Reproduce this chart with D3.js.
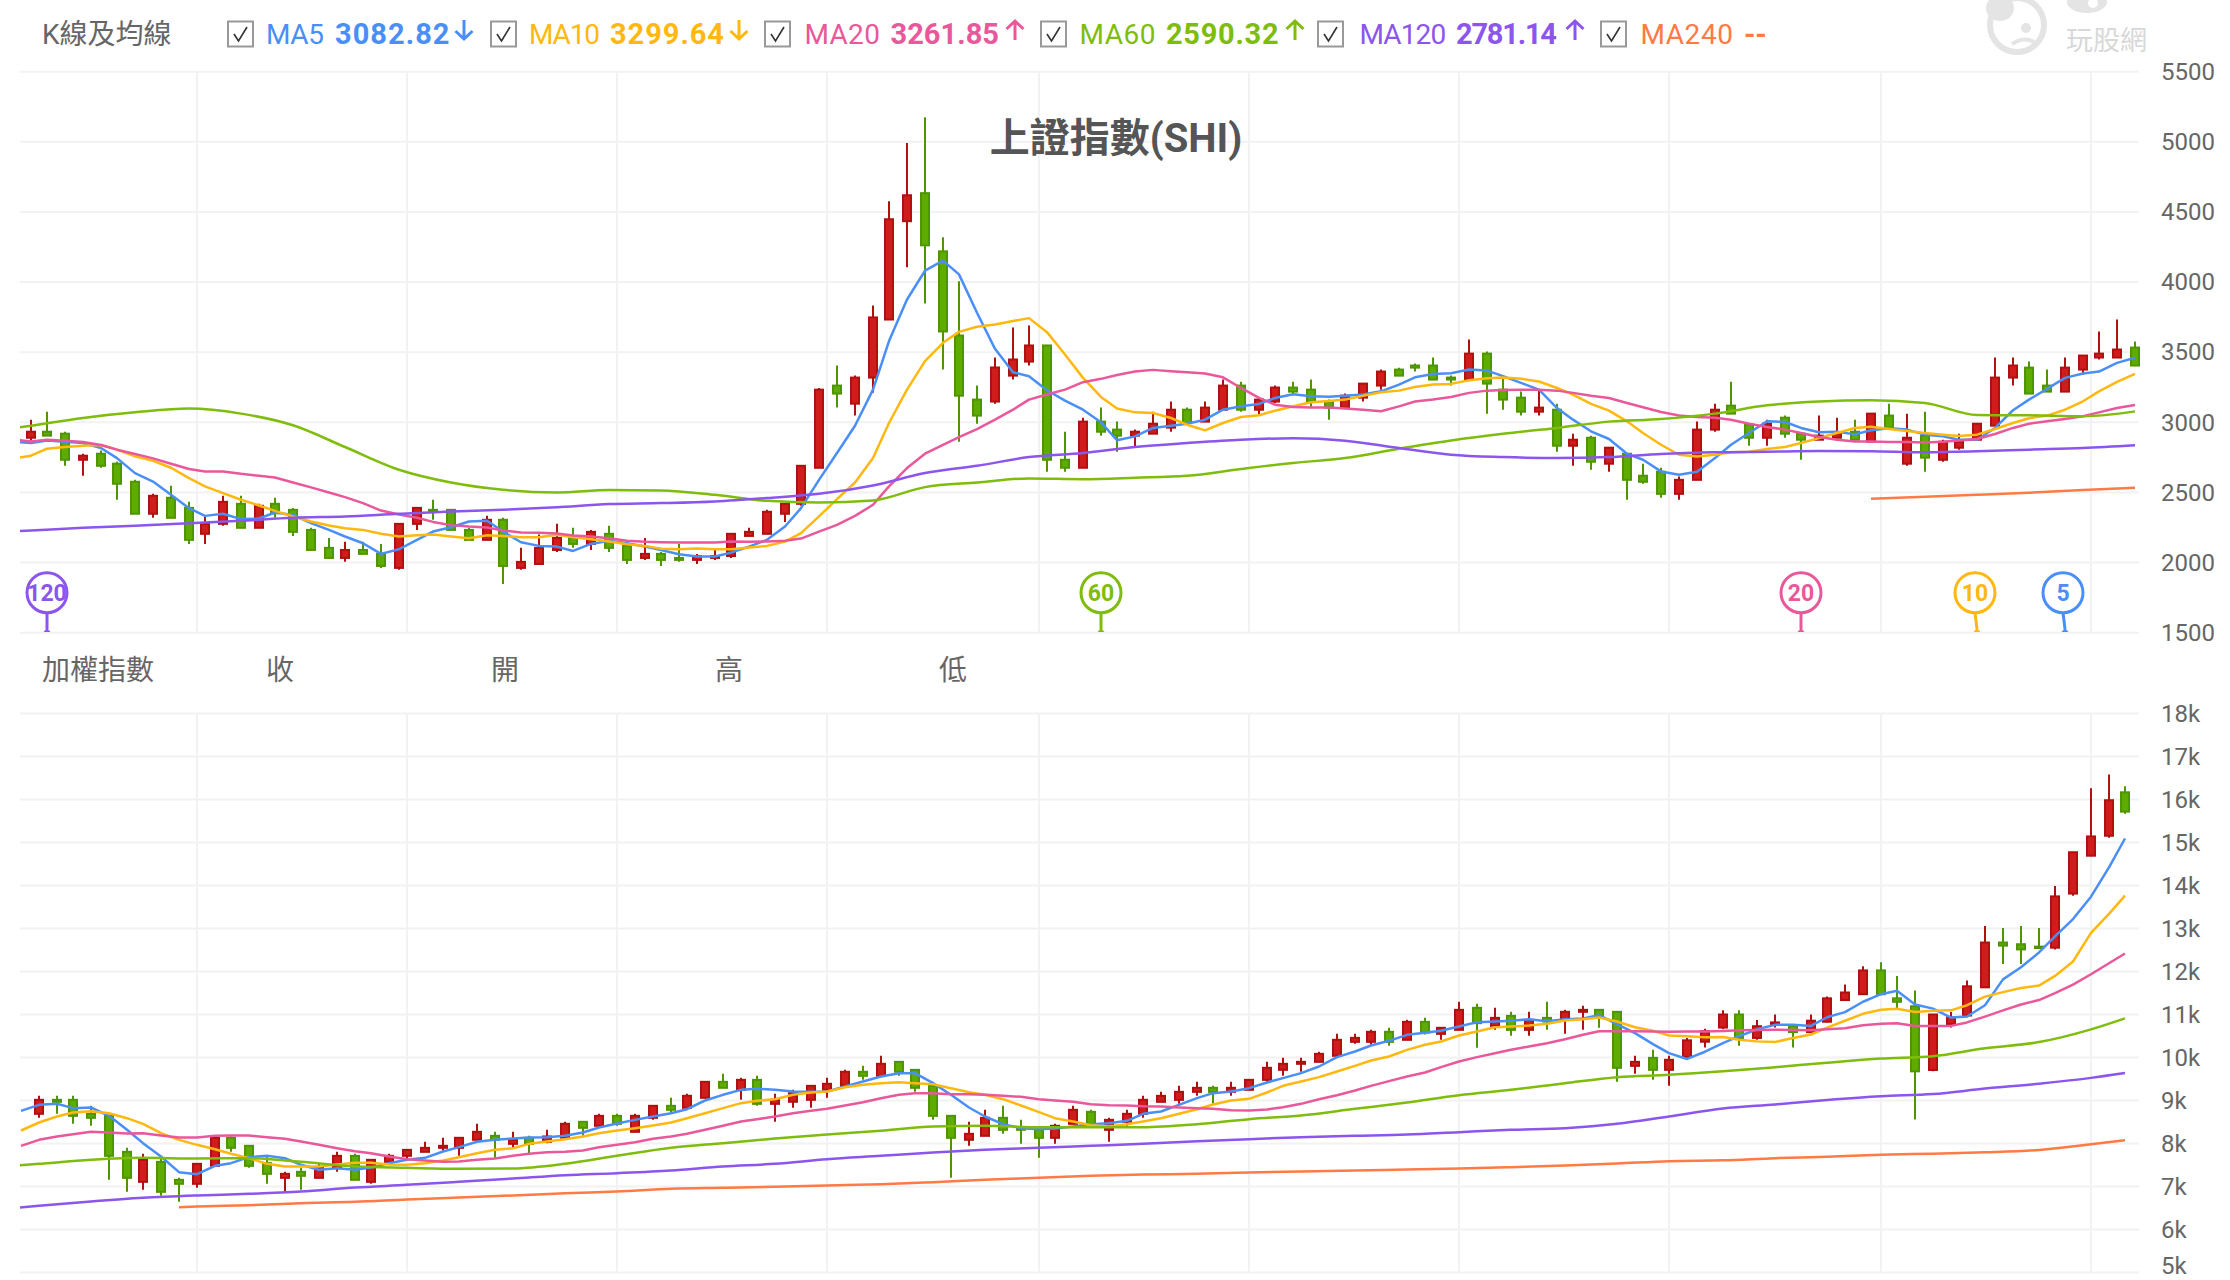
<!DOCTYPE html>
<html>
<head>
<meta charset="utf-8">
<script src="https://cdn.jsdelivr.net/npm/d3@7"></script>
<style>
	html, body { margin: 0; background: #fff; }
	svg { display: block; font-family: Roboto, "Noto Sans CJK TC", sans-serif; }
</style>
</head>
<body>
<svg id="chart" width="2230" height="1280"></svg>
<script>
// header legend
const maNames = ["MA5", "MA10", "MA20", "MA60", "MA120", "MA240"];
const maLegendValues = ["3082.82", "3299.64", "3261.85", "2590.32", "2781.14", "--"];
const maTrends = ["down", "down", "up", "up", "up", null];
const maPeriods = [5, 10, 20, 60, 120];
const subHeaders = ["加權指數", "收", "開", "高", "低"];

const upperTicks = [1500, 2000, 2500, 3000, 3500, 4000, 4500, 5000, 5500];
const lowerTicks = [5000, 6000, 7000, 8000, 9000, 10000, 11000, 12000, 13000, 14000, 15000, 16000, 17000, 18000];

// upper panel: SHI, monthly
const upOpen = [2890,2933,2919,2733,2776,2705,2576,2348,2462,2390,
	2205,2276,2419,2248,2419,2376,2233,2105,2033,2090,
	2062,1962,2276,2376,2376,2233,2162,2305,1962,1990,
	2090,2176,2133,2205,2119,2033,2062,2033,2019,2033,
	2047,2190,2205,2348,2419,2676,3262,3133,3319,3733,
	4434,4634,4219,3619,3162,3148,3333,3433,3548,2733,
	2676,3005,2948,2905,2919,2962,3090,3005,3090,3262,
	3090,3148,3248,3233,3148,3105,3176,3262,3376,3405,
	3405,3319,3305,3490,3233,3176,3076,3090,2833,2890,
	2705,2776,2619,2648,2490,2590,2948,3119,2984,2890,
	3033,2919,2876,2890,2933,2862,3048,2705,2905,2733,
	2819,2876,2976,3319,3390,3262,3219,3376,3462,3462,
	3533];
const upClose = [2933,2905,2733,2762,2690,2562,2348,2476,2319,2162,
	2276,2433,2248,2405,2352,2219,2090,2033,2090,2062,
	1976,2276,2390,2362,2233,2162,2305,1976,2005,2105,
	2176,2133,2219,2105,2019,2062,2019,2019,2047,2047,
	2205,2219,2362,2419,2690,3233,3205,3319,3748,4448,
	4619,4262,3648,3190,3048,3391,3448,3548,2733,2676,
	3005,2933,2905,2933,2990,3090,2995,3105,3262,3090,
	3162,3248,3219,3148,3105,3190,3276,3362,3333,3390,
	3305,3305,3490,3276,3162,3076,3105,2833,2876,2719,
	2819,2590,2576,2490,2590,2948,3090,3062,2890,2990,
	2919,2876,2905,2919,2876,3062,2962,2890,2748,2862,
	2862,2990,3319,3405,3205,3219,3390,3476,3490,3519,
	3405];
const upHigh = [3019,3076,2933,2776,2800,2719,2590,2490,2548,2433,
	2328,2476,2476,2419,2462,2390,2248,2176,2148,2148,
	2133,2276,2390,2448,2376,2248,2333,2319,2105,2200,
	2276,2248,2233,2262,2119,2176,2076,2133,2062,2090,
	2205,2248,2376,2424,2690,3245,3405,3333,3833,4576,
	4991,5176,4319,4005,3262,3462,3676,3690,3548,2933,
	3033,3105,3005,2948,3076,3148,3105,3148,3305,3290,
	3174,3262,3290,3305,3162,3205,3276,3376,3390,3419,
	3462,3333,3590,3505,3316,3219,3233,3133,2919,2905,
	2819,2776,2705,2676,2614,3005,3133,3290,2984,3019,
	3048,2919,3048,3033,3019,3062,3133,3062,3076,2876,
	2919,2990,3462,3462,3433,3376,3462,3476,3648,3733,
	3576];
const upLow = [2871,2905,2690,2619,2676,2448,2348,2319,2319,2133,
	2133,2262,2248,2248,2319,2190,2090,2033,2005,2062,
	1962,1948,2233,2305,2233,2162,2162,1848,1948,1990,
	2076,2105,2090,2076,1990,2019,1976,2005,1990,2019,
	2033,2190,2205,2290,2405,2676,3105,3048,3210,3733,
	4105,3848,3376,2862,2990,3133,3305,3405,2648,2648,
	2676,2905,2790,2828,2919,2933,2995,3005,3090,3076,
	3057,3138,3198,3105,3019,3105,3148,3233,3333,3362,
	3305,3262,3305,3062,3090,3048,3048,2790,2690,2662,
	2648,2448,2562,2462,2448,2590,2933,3062,2833,2833,
	2890,2733,2876,2890,2876,2862,2948,2690,2648,2719,
	2805,2876,2976,3262,3205,3219,3219,3340,3448,3462,
	3405];

// fast averages start one month before the first candle
const upMA5 = [2862,
	2852,2871,2862,2852,2817,2745,2638,2578,2483,2388,
	2333,2348,2310,2314,2357,2340,2281,2233,2186,2138,
	2062,2095,2162,2221,2252,2293,2298,2221,2145,2119,
	2114,2083,2133,2155,2138,2114,2090,2060,2043,2043,
	2071,2114,2162,2257,2388,2590,2781,2976,3233,3579,
	3876,4081,4153,4055,3781,3524,3357,3329,3229,3155,
	3090,3000,2872,2900,2960,2976,2990,3019,3090,3114,
	3131,3174,3200,3186,3183,3190,3198,3221,3269,3321,
	3345,3350,3376,3369,3329,3281,3233,3102,3019,2936,
	2881,2776,2733,2650,2626,2648,2745,2840,2924,3007,
	3002,2960,2929,2933,2914,2943,2957,2948,2912,2900,
	2876,2876,2960,3086,3162,3238,3317,3348,3362,3424,
	3460];
const upMA10 = [2740,
	2762,2812,2824,2833,2838,2805,2757,2726,2676,2602,
	2543,2495,2448,2407,2369,2329,2293,2264,2245,2233,
	2205,2186,2195,2200,2186,2174,2195,2190,2181,2181,
	2198,2181,2167,2150,2131,2119,2098,2095,2100,2095,
	2095,2107,2119,2150,2210,2329,2452,2571,2745,2995,
	3233,3436,3567,3645,3681,3698,3722,3743,3643,3484,
	3317,3181,3098,3071,3067,3031,2983,2943,2995,3038,
	3050,3083,3114,3143,3152,3162,3190,3214,3226,3252,
	3269,3274,3300,3314,3319,3310,3291,3245,3198,3131,
	3083,3007,2924,2840,2769,2757,2769,2786,2790,2810,
	2824,2852,2888,2924,2960,2969,2952,2938,2924,2912,
	2902,2912,2952,2995,3029,3048,3090,3150,3221,3288,
	3345];
const upMA20 = [2876,
	2864,2876,2869,2860,2838,2805,2774,2743,2705,2667,
	2650,2650,2633,2619,2607,2571,2536,2500,2467,2424,
	2371,2343,2319,2290,2267,2257,2250,2229,2214,2212,
	2207,2193,2186,2174,2155,2148,2145,2143,2143,2143,
	2150,2148,2150,2155,2171,2221,2269,2333,2412,2543,
	2674,2776,2840,2895,2952,3019,3090,3162,3198,3233,
	3286,3310,3338,3362,3374,3364,3357,3348,3321,3245,
	3174,3126,3110,3105,3105,3098,3090,3079,3114,3148,
	3162,3181,3210,3226,3231,3233,3233,3226,3210,3190,
	3174,3138,3107,3074,3048,3038,3033,3019,2990,2967,
	2948,2924,2895,2876,2864,2864,2860,2860,2857,2862,
	2871,2881,2917,2960,2990,3007,3024,3043,3071,3102,
	3124];
// slow averages read every third month
const upMA60 = [2921,2976,3031,3071,3098,3062,2979,2824,2662,2571,2519,2500,
	2517,2514,2483,2440,2428,2443,2538,2571,2600,2595,
	2605,2619,2667,2710,2745,2812,2871,2919,2960,3005,3024,
	3062,3121,3148,3157,3138,3052,3050,3043,3078];
const upMA120 = [2210,2229,2248,2262,2281,2298,2319,2329,2348,2364,2376,2395,
	2417,2424,2436,2460,2490,2550,2638,2690,2752,2781,
	2824,2852,2876,2886,2869,2817,2769,2752,2745,2752,2774,
	2786,2790,2795,2793,2786,2793,2805,2817,2836];
const upMA240 = [2455,2469,2483,2498,2517,2533];

// lower panel: TAIEX, monthly
const lowOpen = [8690,9016,9016,8690,8643,7806,7108,7573,7155,7062,
	7480,8132,7946,7542,7201,7341,7201,7434,7713,7108,
	7573,7713,7806,7899,7899,8086,8178,7992,8132,8039,
	8132,8504,8411,8643,8271,8597,8876,8830,9062,9434,
	9248,9480,8922,8970,9016,9248,9341,9667,9574,9899,
	9713,9341,8643,8086,8178,8597,8360,8318,8132,8457,
	8736,8318,8504,8690,8969,9015,9201,9295,9201,9248,
	9480,9713,9853,9899,10039,10364,10364,10597,10411,10829,
	10550,10643,11155,10736,10969,10643,10922,10876,11062,11108,
	11062,9806,9992,9713,10014,10367,10696,11000,10455,10768,
	10736,10592,10832,11336,11472,12025,11376,11192,9710,10776,
	10976,11632,12674,12634,12578,12554,13812,14693,15157,16167];
const lowClose = [9016,8969,8643,8597,7713,7201,7620,6876,7062,7527,
	8132,7899,7480,7294,7294,7248,7434,7713,7155,7620,
	7713,7852,7899,7946,8132,8271,8086,8086,7992,8163,
	8458,8364,8643,8457,8643,8876,8783,9109,9434,9295,
	9480,8922,9016,9170,9341,9388,9667,9574,9853,9667,
	9295,8643,8132,8225,8597,8318,8318,8132,8411,8783,
	8457,8550,8690,9016,9108,9201,9295,9201,9295,9480,
	9760,9853,9899,10085,10411,10457,10597,10364,10829,10581,
	10690,11108,10798,10922,10643,10876,10837,11062,11108,10953,
	9760,9899,9713,9946,10399,10615,11000,10455,10728,10816,
	10592,10856,11376,11512,12025,11472,11296,9678,11000,10936,
	11656,12674,12602,12514,12546,13747,14773,15141,15983,15718];
const lowHigh = [9109,9109,9109,8876,8643,7899,7760,7697,7201,7527,
	8132,8163,7946,7697,7341,7434,7542,7806,7760,7620,
	7760,7852,8039,8132,8132,8457,8271,8271,8178,8318,
	8504,8504,8690,8690,8690,8876,9062,9155,9434,9620,
	9527,9573,9155,9248,9341,9527,9713,9806,10039,9899,
	9713,9434,8643,8504,8783,8876,8550,8318,8458,8876,
	8783,8597,8783,9109,9201,9341,9434,9341,9434,9480,
	9900,9992,9992,10132,10550,10550,10643,10690,10876,10922,
	10690,11295,11248,11155,11062,11062,11295,11108,11201,11108,
	11062,10039,10178,10039,10455,10671,11096,11096,10872,11000,
	10776,11000,11416,11697,12121,12218,11897,11560,11000,11056,
	11792,13058,13010,13058,13010,13988,14781,16263,16583,16311];
const lowLow = [8597,8690,8457,8411,7155,6876,6922,6783,6643,6969,
	7480,7806,7434,7062,6876,6922,7201,7341,7155,7062,
	7527,7620,7806,7806,7713,8086,7666,7899,7775,8008,
	8132,8178,8364,8411,8271,8550,8705,8830,9062,9295,
	9016,8876,8504,8830,8830,9062,9341,9481,9574,9574,
	9201,8550,7201,7946,8178,8225,7992,7666,7992,8457,
	8411,8039,8411,8597,8969,8923,9108,8923,9108,9248,
	9434,9574,9667,9899,10039,10318,10295,10271,10411,10535,
	10411,10643,10225,10643,10504,10504,10643,10550,10643,10690,
	9434,9620,9480,9341,9974,10231,10656,10271,10415,10696,
	10231,10592,10816,11336,11472,11472,11152,8556,9678,10696,
	10936,11632,12177,12177,12546,12514,13763,14693,15110,15670];

const lowMA5 = [8760,
	8899,8923,8822,8837,8643,8318,8008,7698,7333,7287,
	7481,7543,7682,7713,7659,7504,7388,7426,7388,7442,
	7543,7620,7667,7814,7915,8039,8086,8116,8140,8147,
	8178,8256,8372,8465,8550,8628,8705,8798,9000,9132,
	9248,9271,9248,9209,9202,9209,9326,9442,9558,9636,
	9636,9403,9132,8837,8628,8450,8357,8333,8349,8395,
	8450,8473,8527,8690,8744,8899,9054,9171,9209,9287,
	9419,9520,9636,9791,10008,10140,10279,10388,10527,10574,
	10620,10721,10822,10837,10853,10891,10845,10891,10907,10985,
	10775,10566,10310,10101,9966,10134,10335,10495,10655,10759,
	10759,10735,10936,11056,11296,11472,11552,11232,11136,10928,
	10952,11216,11817,12097,12442,12818,13219,13740,14420,15093];
const lowMA10 = [8302,
	8488,8628,8721,8752,8705,8589,8457,8240,8085,7969,
	7868,7760,7659,7527,7465,7465,7465,7512,7550,7550,
	7512,7504,7543,7605,7682,7775,7853,7891,7992,8046,
	8101,8163,8240,8302,8357,8419,8488,8589,8705,8822,
	8938,8992,9031,9132,9186,9209,9310,9364,9403,9426,
	9403,9380,9287,9194,9132,9031,8884,8729,8589,8512,
	8426,8395,8450,8512,8589,8690,8798,8907,9000,9039,
	9186,9341,9442,9543,9674,9806,9930,10023,10178,10295,
	10372,10512,10605,10705,10721,10744,10783,10860,10891,10930,
	10837,10705,10620,10512,10495,10471,10479,10415,10375,10359,
	10455,10535,10695,10855,11016,11112,11136,11056,11088,11096,
	11216,11416,11520,11616,11673,11897,12233,12898,13339,13763];
const lowMA20 = [7946,
	8085,8163,8217,8271,8256,8233,8240,8186,8140,8140,
	8178,8186,8186,8147,8109,8046,7969,7891,7822,7775,
	7698,7636,7605,7574,7581,7620,7651,7713,7760,7798,
	7806,7837,7915,7969,8031,8109,8163,8225,8318,8411,
	8512,8566,8628,8705,8760,8806,8884,8961,9054,9132,
	9171,9171,9147,9147,9132,9109,9085,9031,9000,8969,
	8915,8891,8884,8868,8861,8837,8822,8806,8775,8767,
	8791,8845,8922,9031,9124,9233,9341,9450,9558,9651,
	9775,9907,10008,10101,10178,10256,10333,10426,10527,10612,
	10612,10612,10605,10597,10607,10607,10615,10631,10639,10647,
	10639,10631,10655,10679,10751,10783,10799,10735,10735,10735,
	10816,10952,11096,11232,11336,11496,11696,11937,12193,12418];
const lowMA60 = [7434,7527,7620,7667,7651,7659,7574,7465,7434,7411,7418,
	7527,7713,7899,8008,8116,8209,8295,8395,8411,8380,8380,
	8380,8450,8566,8651,8806,8954,9124,9248,9403,9543,9597,
	9678,9774,9878,9974,10030,10215,10359,10655,10911];
const lowMA120 = [6442,6550,6651,6736,6791,6829,6884,6977,7039,7109,7186,
	7263,7310,7372,7465,7527,7636,7713,7791,7853,7899,7946,
	7992,8054,8101,8147,8178,8209,8264,8318,8357,8457,8628,
	8813,8909,9013,9101,9149,9277,9389,9526,9638];
const lowMA240 = [6519,6535,6566,6612,6643,6698,6744,6791,
	6845,6884,6946,6969,6992,7023,7054,7101,7155,7202,7248,
	7279,7294,7326,7349,7372,7395,7419,7450,7488,7535,7589,
	7611,7659,7691,7739,7763,7795,7851,7980,8076];

const maColors = ["#4a8ff7", "#ffb80f", "#e9589a", "#7fbc0c", "#8b55ee", "#ff7a45"];
const upFill = "#d11c1c", upEdge = "#b01010", downFill = "#5fac00", downEdge = "#4f9500";
const gridColor = "#f2f2f2", textColor = "#666";

const plotLeft = 20, plotRight = 2139, axisX = 2161;

const svg = d3.select("#chart");
svg.append("defs").append("clipPath").attr("id", "plotClip")
	.append("rect").attr("x", plotLeft).attr("y", 60).attr("width", plotRight - plotLeft).attr("height", 1220);

// candle centres land on every other pixel in the original
const snap = (v) => 2 * Math.round((v - 1) / 2) + 1;
const xUpScale = d3.scaleLinear().domain([0, 120]).range([30.2, 2135]);
const xLowScale = d3.scaleLinear().domain([0, 119]).range([38.7, 2125.8]);
const xUp = (i) => snap(xUpScale(i));
const xLow = (i) => snap(xLowScale(i));
const yUp = d3.scaleLinear().domain([1500, 5500]).range([632.7, 71.7]);
const yLow = d3.scaleLinear().domain([5000, 18000]).range([1272.5, 713.5]);

// every january, same place in both panels
const yearIdx = d3.range(9, 120, 12);

const fastIdx = (arr) => arr.map((_, i) => i - 1);
const upSlowIdx = d3.range(-3, 121, 3);
const lowSlowIdx = d3.range(-3, 118, 3).concat(119);

function drawPanel(o) {
	const g = svg.append("g");

	g.append("g").selectAll("line").data(o.ticks).join("line")
		.attr("x1", plotLeft).attr("x2", plotRight)
		.attr("y1", (d) => o.y(d)).attr("y2", (d) => o.y(d))
		.attr("stroke", gridColor).attr("stroke-width", 2);

	g.append("g").selectAll("line").data(yearIdx).join("line")
		.attr("x1", (d) => xLow(d)).attr("x2", (d) => xLow(d))
		.attr("y1", o.y.range()[1]).attr("y2", o.y.range()[0])
		.attr("stroke", gridColor).attr("stroke-width", 2);

	const axis = g.append("g")
		.attr("transform", `translate(${axisX},0)`)
		.call(d3.axisRight(o.y).tickValues(o.ticks).tickSize(0).tickPadding(0).tickFormat(o.format));
	axis.select(".domain").remove();
	axis.selectAll("text").attr("fill", textColor).attr("font-size", 24)
		.attr("font-family", "Roboto, sans-serif");
	// the lowest label of the page sits right on the edge
	if (o.edgeTick !== undefined) axis.selectAll("text").filter((d) => d === o.edgeTick).attr("dy", "0.06em");

	const rows = o.open.map((d, i) => ({ i, o: d, c: o.close[i], h: o.high[i], l: o.low[i] }));
	const candle = g.append("g").selectAll("g").data(rows).join("g");
	candle.append("line")
		.attr("x1", (d) => o.x(d.i)).attr("x2", (d) => o.x(d.i))
		.attr("y1", (d) => o.y(d.h)).attr("y2", (d) => o.y(d.l))
		.attr("stroke", (d) => (d.c >= d.o ? upEdge : downEdge))
		.attr("stroke-width", 2);
	candle.append("rect")
		.attr("x", (d) => o.x(d.i) - 4)
		.attr("width", 8)
		.attr("y", (d) => o.y(Math.max(d.o, d.c)))
		.attr("height", (d) => Math.max(1, Math.abs(o.y(d.o) - o.y(d.c))))
		.attr("fill", (d) => (d.c >= d.o ? upFill : downFill))
		.attr("stroke", (d) => (d.c >= d.o ? upEdge : downEdge))
		.attr("stroke-width", 2);

	const lines = g.append("g").attr("clip-path", "url(#plotClip)");
	o.mas.forEach((m, k) => {
		const line = d3.line()
			.x((d, i) => o.x(m.idx[i]))
			.y((d) => o.y(d))
			.curve(k < 3 ? d3.curveLinear : d3.curveMonotoneX);
		lines.append("path")
			.attr("d", line(m.values))
			.attr("fill", "none")
			.attr("stroke", maColors[k])
			.attr("stroke-width", 2.5)
			.attr("stroke-linejoin", "round");
	});
}

drawPanel({
	x: xUp, y: yUp, ticks: upperTicks, format: (d) => d,
	open: upOpen, close: upClose, high: upHigh, low: upLow,
	mas: [
		{ values: upMA5, idx: fastIdx(upMA5) },
		{ values: upMA10, idx: fastIdx(upMA10) },
		{ values: upMA20, idx: fastIdx(upMA20) },
		{ values: upMA60, idx: upSlowIdx },
		{ values: upMA120, idx: upSlowIdx },
		{ values: upMA240, idx: d3.range(105, 121, 3) }
	]
});

drawPanel({
	x: xLow, y: yLow, ticks: lowerTicks, format: (d) => d / 1000 + "k", edgeTick: 5000,
	open: lowOpen, close: lowClose, high: lowHigh, low: lowLow,
	mas: [
		{ values: lowMA5, idx: fastIdx(lowMA5) },
		{ values: lowMA10, idx: fastIdx(lowMA10) },
		{ values: lowMA20, idx: fastIdx(lowMA20) },
		{ values: lowMA60, idx: lowSlowIdx },
		{ values: lowMA120, idx: lowSlowIdx },
		{ values: lowMA240, idx: [8].concat(d3.range(9, 118, 3), [119]) }
	]
});

// pins: candle where each average window starts
const pinY = 592.7, pinBase = 632;
const pins = svg.append("g").selectAll("g").data(maPeriods).join("g");
const pinX = (n) => xUp(upOpen.length - n);
const pinLean = (n) => (n <= 10 ? 2 : 0);
pins.append("path")
	.attr("d", (n) => `M${pinX(n) - pinLean(n)},${pinY + 20}L${pinX(n)},${pinBase - 3}`)
	.attr("stroke", (n, i) => maColors[i]).attr("stroke-width", 3).attr("fill", "none");
pins.append("path")
	.attr("d", (n) => `M${pinX(n) - 3.5},${pinBase}L${pinX(n)},${pinBase - 4}L${pinX(n) + 3.5},${pinBase}Z`)
	.attr("fill", (n, i) => maColors[i]);
pins.append("circle")
	.attr("cx", (n) => pinX(n) - pinLean(n)).attr("cy", pinY).attr("r", 20)
	.attr("fill", "#fff").attr("stroke", (n, i) => maColors[i]).attr("stroke-width", 3);
pins.append("text")
	.attr("x", (n) => pinX(n) - pinLean(n)).attr("y", pinY + 8)
	.attr("text-anchor", "middle").attr("font-size", 23).attr("font-weight", 700)
	.attr("fill", (n, i) => maColors[i])
	.text((n) => n);

// header row
svg.append("text").attr("x", 42).attr("y", 44).attr("font-size", 28).attr("fill", textColor).text("K線及均線");

const boxX = [228, 491, 765, 1041, 1318, 1601];
const nameX = [266, 529, 804.5, 1079.5, 1359.5, 1640.5];
const nameW = [58, 71, 75.4, 76, 86.7, 92.5];
const valueX = [335, 610, 890.5, 1166, 1456, 1744];
const valueW = [114.5, 114, 108.5, 112.6, 101, 22.8];
const arrowX = [464, 739, 1015, 1295, 1575, null];

const legend = svg.append("g").selectAll("g").data(maNames).join("g");
legend.append("rect")
	.attr("x", (d, i) => boxX[i]).attr("y", 21.5).attr("width", 25).attr("height", 25)
	.attr("fill", "#fff").attr("stroke", "#999").attr("stroke-width", 2);
legend.append("path")
	.attr("d", (d, i) => `M${boxX[i] + 6},${34}L${boxX[i] + 10.5},${41}L${boxX[i] + 19},${27}`)
	.attr("fill", "none").attr("stroke", "#333").attr("stroke-width", 1.6);
legend.append("text")
	.attr("x", (d, i) => nameX[i]).attr("y", 44).attr("font-size", 28)
	.attr("textLength", (d, i) => nameW[i])
	.attr("fill", (d, i) => maColors[i]).text((d) => d);
legend.append("text")
	.attr("x", (d, i) => valueX[i]).attr("y", 44).attr("font-size", 29).attr("font-weight", 700)
	.attr("textLength", (d, i) => valueW[i])
	.attr("fill", (d, i) => maColors[i]).text((d, i) => maLegendValues[i]);
legend.filter((d, i) => maTrends[i]).append("path")
	.attr("d", function (d) {
		const i = maNames.indexOf(d), a = arrowX[i];
		return maTrends[i] === "up"
			? `M${a},40V21M${a - 8.5},29L${a},21L${a + 8.5},29`
			: `M${a},20V39M${a - 8.5},31L${a},39L${a + 8.5},31`;
	})
	.attr("fill", "none")
	.attr("stroke", (d) => maColors[maNames.indexOf(d)])
	.attr("stroke-width", 3);

// title
svg.append("text").attr("x", 1116).attr("y", 152).attr("text-anchor", "middle")
	.attr("font-size", 40).attr("font-weight", 700).attr("fill", "#555").text("上證指數(SHI)");

// row between the panels
const subX = [42, 266, 491, 715, 939];
svg.append("g").selectAll("text").data(subHeaders).join("text")
	.attr("x", (d, i) => subX[i]).attr("y", 680)
	.attr("font-size", 28).attr("fill", textColor).text((d) => d);

// watermark
const mark = svg.append("g").attr("fill", "#e4e4e4");
mark.append("ellipse").attr("cx", 2017).attr("cy", 25).attr("rx", 27).attr("ry", 27)
	.attr("fill", "#fff").attr("stroke", "#e4e4e4").attr("stroke-width", 6);
mark.append("ellipse").attr("cx", 2000).attr("cy", 8).attr("rx", 14).attr("ry", 13);
mark.append("circle").attr("cx", 2026).attr("cy", 28).attr("r", 5);
mark.append("path").attr("d", "M2012,44Q2024,36 2034,42").attr("fill", "none").attr("stroke", "#e4e4e4").attr("stroke-width", 4);
mark.append("ellipse").attr("cx", 2087).attr("cy", 2).attr("rx", 20).attr("ry", 11);
mark.append("circle").attr("cx", 2093).attr("cy", 3).attr("r", 5).attr("fill", "#fff");
mark.append("text").attr("x", 2066).attr("y", 50).attr("font-size", 27).attr("fill", "#d8d8d8").text("玩股網");
</script>
</body>
</html>
